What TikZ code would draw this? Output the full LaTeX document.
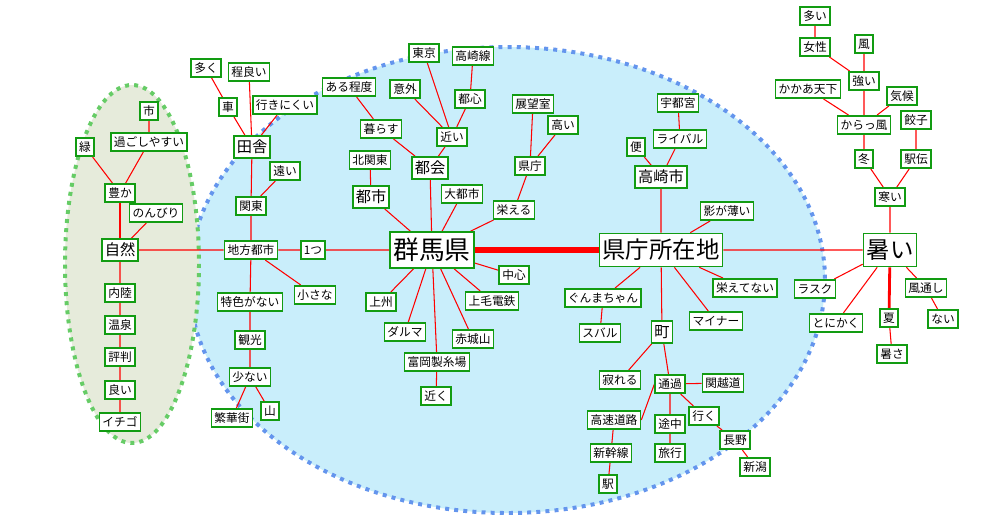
\documentclass[tikz,border=0pt]{standalone}
\usepackage{fontspec}
\usepackage{xcolor}
\usepackage{tikz}
\usetikzlibrary{backgrounds}
\newfontfamily\jpfont{Noto Sans CJK JP}

\begin{document}
\begin{tikzpicture}[
  x=0.03cm,
  y=-0.03cm,
  font=\jpfont\fontsize{10}{12}\selectfont,
  word/.style={draw=wdgreen,fill=white,line width=1.4pt,inner xsep=2.6pt,
    inner ysep=0pt,minimum height=0.55cm,text=black},
  wordmid/.style={word,font=\jpfont\fontsize{13}{15}\selectfont,
    minimum height=0.66cm},
  wordbig/.style={word,font=\jpfont\fontsize{20}{23}\selectfont,
    minimum height=0.99cm},
  wordtop/.style={word,font=\jpfont\fontsize{22}{25}\selectfont,
    minimum height=1.08cm},
  link/.style={draw=red,line width=0.9pt},
  strong/.style={draw=red,line width=2.4pt},
  grouparea/.style={line width=3.4pt,dash pattern=on 3.4pt off 4.4pt}
]
  \definecolor{wdgreen}{HTML}{129C12}
  \definecolor{areablue}{HTML}{C9EEFB}
  \definecolor{dotblue}{HTML}{6495ED}
  \definecolor{areagreen}{HTML}{E6EBDB}
  \definecolor{dotgreen}{HTML}{66CC66}

  \useasboundingbox (0,0) rectangle (1000,519);

  % nature group
  \node[word] (shi) at (149,111) {市};
  \node[word] (sugoshi) at (149,142) {過ごしやすい};
  \node[word] (midori) at (85,147) {緑};
  \node[word] (yutaka) at (120,193) {豊か};
  \node[word] (nonbiri) at (156,213) {のんびり};
  \node[wordmid] (shizen) at (120,250) {自然};
  \node[word] (nairiku) at (120,293) {内陸};
  \node[word] (onsen) at (120,325) {温泉};
  \node[word] (hyouban) at (120,357) {評判};
  \node[word] (yoi) at (120,390) {良い};
  \node[word] (ichigo) at (120,422) {イチゴ};

  % countryside group
  \node[word] (ooku) at (206,68) {多く};
  \node[word] (hodoyoi) at (249,72) {程良い};
  \node[word] (kuruma) at (228,107) {車};
  \node[word] (ikinikui) at (285,105) {行きにくい};
  \node[wordmid] (inaka) at (252,147) {田舎};
  \node[word] (tooi) at (285,171) {遠い};
  \node[word] (kantou) at (251,206) {関東};
  \node[word] (chihou) at (251,250) {地方都市};
  \node[word] (hitotsu) at (313,250) {1つ};
  \node[word] (tokushoku) at (250,302) {特色がない};
  \node[word] (chiisana) at (315,295) {小さな};
  \node[word] (kankou) at (250,340) {観光};
  \node[word] (sukunai) at (250,377) {少ない};
  \node[word] (hanka) at (232,418) {繁華街};
  \node[word] (yama) at (270,411) {山};

  % gunma group
  \node[word] (toukyou) at (424,53) {東京};
  \node[word] (takasakisen) at (473,56) {高崎線};
  \node[word] (aruteido) at (349,87) {ある程度};
  \node[word] (igai) at (405,89) {意外};
  \node[word] (toshin) at (470,99) {都心};
  \node[word] (kurasu) at (381,129) {暮らす};
  \node[word] (chikai) at (452,137) {近い};
  \node[word] (tenbou) at (533,104) {展望室};
  \node[word] (takai) at (563,125) {高い};
  \node[word] (kitakantou) at (370,160) {北関東};
  \node[wordmid] (tokai) at (430,168) {都会};
  \node[word] (kenchou) at (530,166) {県庁};
  \node[wordmid] (toshi) at (371,197) {都市};
  \node[word] (daitoshi) at (462,194) {大都市};
  \node[word] (sakaeru) at (514,210) {栄える};
  \node[wordtop] (gunma) at (432,250) {群馬県};
  \node[word] (chuushin) at (514,275) {中心};
  \node[word] (joushuu) at (381,302) {上州};
  \node[word] (joumou) at (492,301) {上毛電鉄};
  \node[word] (daruma) at (405,332) {ダルマ};
  \node[word] (akagi) at (473,339) {赤城山};
  \node[word] (tomioka) at (437,362) {富岡製糸場};
  \node[word] (chikaku) at (436,396) {近く};

  % capital group
  \node[word] (utsunomiya) at (678,103) {宇都宮};
  \node[word] (rival) at (680,139) {ライバル};
  \node[word] (ben) at (636,147) {便};
  \node[wordmid] (takasaki) at (661,177) {高崎市};
  \node[word] (kagega) at (727,211) {影が薄い};
  \node[wordbig] (shozaichi) at (661,250) {県庁所在地};
  \node[word] (gunmachan) at (603,298) {ぐんまちゃん};
  \node[word] (sakaetenai) at (745,288) {栄えてない};
  \node[word] (subaru) at (600,333) {スバル};
  \node[wordmid] (machi) at (662,332) {町};
  \node[word] (minor) at (716,321) {マイナー};
  \node[word] (sabireru) at (620,380) {寂れる};
  \node[word] (tsuuka) at (670,384) {通過};
  \node[word] (kanetsu) at (723,383) {関越道};
  \node[word] (kousoku) at (614,420) {高速道路};
  \node[word] (tochuu) at (670,424) {途中};
  \node[word] (iku) at (704,416) {行く};
  \node[word] (nagano) at (735,440) {長野};
  \node[word] (shinkansen) at (611,453) {新幹線};
  \node[word] (ryokou) at (670,453) {旅行};
  \node[word] (niigata) at (755,467) {新潟};
  \node[word] (eki) at (608,484) {駅};

  % climate group
  \node[word] (ooi) at (815,16) {多い};
  \node[word] (josei) at (815,47) {女性};
  \node[word] (kaze) at (864,44) {風};
  \node[word] (tsuyoi) at (864,81) {強い};
  \node[word] (kakaa) at (808,89) {かかあ天下};
  \node[word] (kikou) at (902,96) {気候};
  \node[word] (karakkaze) at (864,125) {からっ風};
  \node[word] (gyouza) at (916,120) {餃子};
  \node[word] (fuyu) at (864,159) {冬};
  \node[word] (ekiden) at (916,159) {駅伝};
  \node[word] (samui) at (890,197) {寒い};
  \node[wordbig] (atsui) at (890,250) {暑い};
  \node[word] (rasuku) at (815,289) {ラスク};
  \node[word] (kazetooshi) at (926,288) {風通し};
  \node[word] (tonikaku) at (836,323) {とにかく};
  \node[word] (natsu) at (889,318) {夏};
  \node[word] (nai) at (943,319) {ない};
  \node[word] (atsusa) at (892,354) {暑さ};

  \begin{scope}[on background layer]
    \fill[areablue] (507,280) ellipse [x radius=318,y radius=233];
    \draw[grouparea,dotblue] (507,280) ellipse [x radius=318,y radius=233];
    \fill[areagreen] (132,264) ellipse [x radius=67,y radius=179];
    \draw[grouparea,dotgreen] (132,264) ellipse [x radius=67,y radius=179];

    \draw[link] (shi) -- (sugoshi) (sugoshi) -- (yutaka) (midori) -- (yutaka)
      (nonbiri) -- (shizen) (shizen) -- (nairiku) (nairiku) -- (onsen)
      (onsen) -- (hyouban) (hyouban) -- (yoi) (yoi) -- (ichigo)
      (shizen) -- (chihou);
    \draw[strong] (yutaka) -- (shizen);

    \draw[link] (ooku) -- (kuruma) (kuruma) -- (inaka) (hodoyoi) -- (inaka)
      (ikinikui) -- (inaka) (inaka) -- (kantou) (tooi) -- (kantou)
      (kantou) -- (chihou) (chihou) -- (hitotsu) (hitotsu) -- (gunma)
      (chihou) -- (tokushoku) (chihou) -- (chiisana)
      (tokushoku) -- (kankou) (kankou) -- (sukunai)
      (sukunai) -- (hanka) (sukunai) -- (yama);

    \draw[link] (toukyou) -- (chikai) (takasakisen) -- (toshin)
      (toshin) -- (chikai) (igai) -- (chikai) (aruteido) -- (kurasu)
      (kurasu) -- (tokai) (chikai) -- (tokai) (kitakantou) -- (toshi)
      (toshi) -- (gunma) (tokai) -- (gunma) (daitoshi) -- (gunma)
      (sakaeru) -- (gunma) (sakaeru) -- (kenchou) (tenbou) -- (kenchou)
      (takai) -- (kenchou) (gunma) -- (chuushin) (gunma) -- (joushuu)
      (gunma) -- (joumou) (gunma) -- (daruma) (gunma) -- (akagi)
      (gunma) -- (tomioka) (tomioka) -- (chikaku);
    \draw[red,line width=5.6pt] (gunma) -- (shozaichi);

    \draw[link] (utsunomiya) -- (rival) (rival) -- (takasaki)
      (ben) -- (takasaki) (takasaki) -- (shozaichi) (kagega) -- (shozaichi)
      (shozaichi) -- (atsui) (shozaichi) -- (gunmachan)
      (shozaichi) -- (sakaetenai) (shozaichi) -- (machi)
      (shozaichi) -- (minor) (gunmachan) -- (subaru)
      (machi) -- (sabireru) (machi) -- (tsuuka) (tsuuka) -- (kanetsu)
      (tsuuka.west) -- (kousoku.east) (tsuuka) -- (tochuu) (tsuuka) -- (iku)
      (tochuu) -- (ryokou) (iku) -- (nagano) (nagano) -- (niigata)
      (kousoku) -- (shinkansen) (shinkansen) -- (eki);

    \draw[link] (ooi) -- (josei) (josei) -- (tsuyoi) (kaze) -- (tsuyoi)
      (tsuyoi) -- (karakkaze) (kakaa) -- (karakkaze) (kikou) -- (karakkaze)
      (karakkaze) -- (fuyu) (fuyu) -- (samui) (gyouza) -- (ekiden)
      (ekiden) -- (samui) (samui) -- (atsui) (atsui) -- (rasuku)
      (atsui) -- (tonikaku) (atsui) -- (kazetooshi) (kazetooshi) -- (nai)
      (natsu) -- (atsusa);
    \draw[strong] (atsui) -- (natsu);
  \end{scope}
\end{tikzpicture}
\end{document}
